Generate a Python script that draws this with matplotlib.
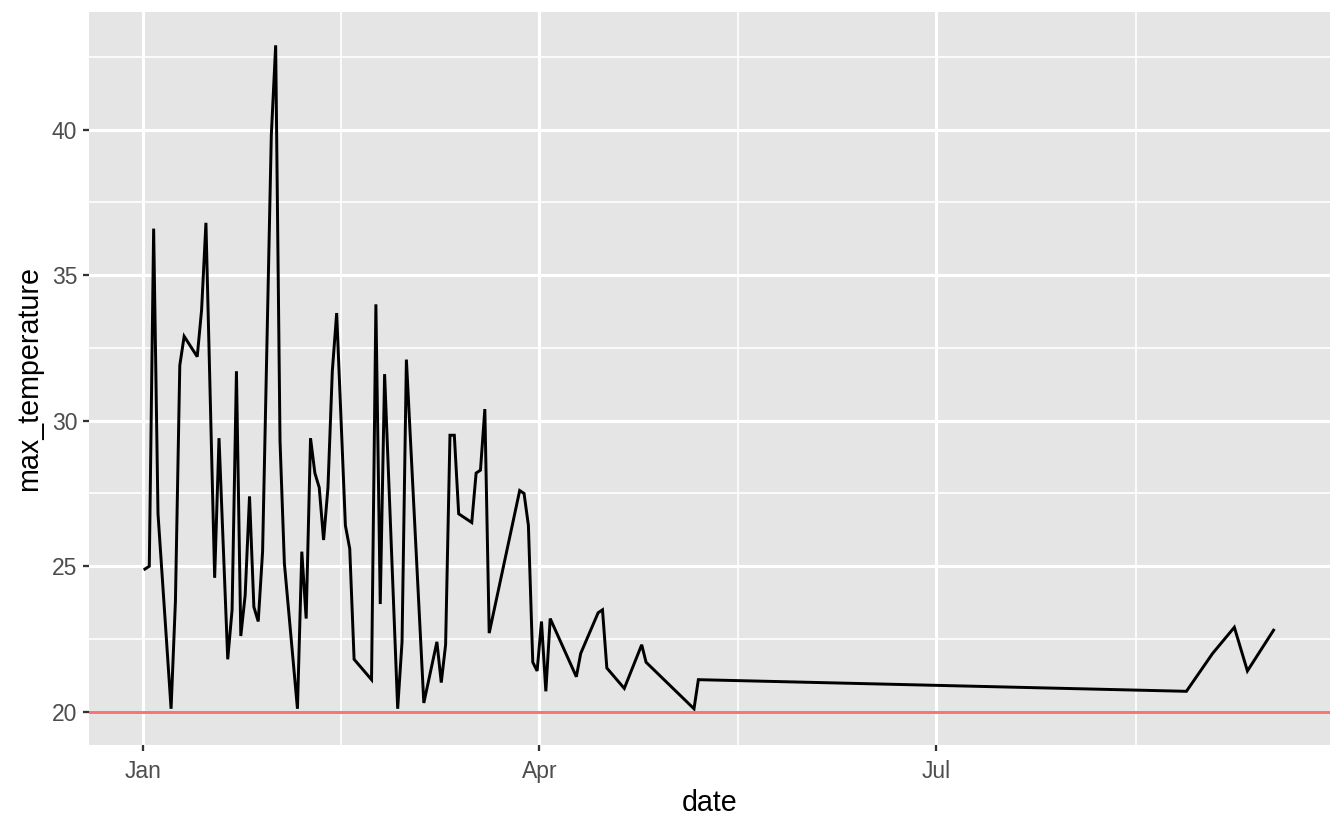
import numpy as np
import pandas as pd
import matplotlib
matplotlib.use("Agg")
import matplotlib.pyplot as plt
import matplotlib.dates as mdates

# ---- data ----
dates = [
    "2020-01-01", "2020-01-02", "2020-01-03", "2020-01-04", "2020-01-07", "2020-01-08",
    "2020-01-09", "2020-01-10", "2020-01-13", "2020-01-14", "2020-01-15", "2020-01-17",
    "2020-01-18", "2020-01-20", "2020-01-21", "2020-01-22", "2020-01-23", "2020-01-24",
    "2020-01-25", "2020-01-26", "2020-01-27", "2020-01-28", "2020-01-30", "2020-01-31",
    "2020-02-01", "2020-02-02", "2020-02-05", "2020-02-06", "2020-02-07", "2020-02-08",
    "2020-02-09", "2020-02-10", "2020-02-11", "2020-02-12", "2020-02-13", "2020-02-14",
    "2020-02-16", "2020-02-17", "2020-02-18", "2020-02-22", "2020-02-23", "2020-02-24",
    "2020-02-25", "2020-02-28", "2020-02-29", "2020-03-01", "2020-03-05", "2020-03-08",
    "2020-03-09", "2020-03-10", "2020-03-11", "2020-03-12", "2020-03-13", "2020-03-16",
    "2020-03-17", "2020-03-18", "2020-03-19", "2020-03-20", "2020-03-27", "2020-03-28",
    "2020-03-29", "2020-03-30", "2020-03-31", "2020-04-01", "2020-04-02", "2020-04-03",
    "2020-04-09", "2020-04-10", "2020-04-14", "2020-04-15", "2020-04-16", "2020-04-20",
    "2020-04-24", "2020-04-25", "2020-05-06", "2020-05-07", "2020-08-27", "2020-09-02",
    "2020-09-07", "2020-09-10", "2020-09-16",
]
max_temperature = [
    24.9, 25.0, 36.6, 26.8, 20.1, 23.8,
    31.9, 32.9, 32.2, 33.8, 36.8, 24.6,
    29.4, 21.8, 23.5, 31.7, 22.6, 24.0,
    27.4, 23.6, 23.1, 25.5, 39.8, 42.9,
    29.3, 25.1, 20.1, 25.5, 23.2, 29.4,
    28.2, 27.7, 25.9, 27.7, 31.7, 33.7,
    26.4, 25.6, 21.8, 21.1, 34.0, 23.7,
    31.6, 20.1, 22.4, 32.1, 20.3, 22.4,
    21.0, 22.3, 29.5, 29.5, 26.8, 26.5,
    28.2, 28.3, 30.4, 22.7, 27.6, 27.5,
    26.4, 21.7, 21.4, 23.1, 20.7, 23.2,
    21.2, 22.0, 23.4, 23.5, 21.5, 20.8,
    22.3, 21.7, 20.1, 21.1, 20.7, 22.0,
    22.9, 21.4, 22.8,
]
threshold = 20
x_breaks = ["2020-01-01", "2020-04-01", "2020-07-01", "2020-10-01"]
y_breaks = [20, 25, 30, 35, 40]

# observation time of day
obs_time = pd.Timedelta(hours=11)

t = pd.to_datetime(dates) + obs_time
y = np.array(max_temperature)
xnum = mdates.date2num(t)

# ---- figure ----
W, H, DPI = 1344, 830, 150
fig = plt.figure(figsize=(W / DPI, H / DPI), dpi=DPI)
ax = fig.add_axes([88.5 / W, 1 - 745 / H, (1330 - 88.5) / W, (745 - 12) / H])

panel_bg = "#E5E5E5"
ax.set_facecolor(panel_bg)
for s in ax.spines.values():
    s.set_visible(False)

# limits with ggplot 5% expansion
xmin, xmax = xnum.min(), xnum.max()
xr = xmax - xmin
ax.set_xlim(xmin - 0.05 * xr, xmax + 0.05 * xr)
ylo, yhi = min(y.min(), threshold), max(y.max(), threshold)
yr = yhi - ylo
ax.set_ylim(ylo - 0.05 * yr, yhi + 0.05 * yr)

# breaks
xb = mdates.date2num(pd.to_datetime(x_breaks))
ax.set_xticks(xb[:3])
ax.set_xticklabels([d.strftime("%b") for d in pd.to_datetime(x_breaks[:3])])
x_minor = (xb[:-1] + xb[1:]) / 2
ax.set_yticks(y_breaks)
ax.set_yticklabels([str(v) for v in y_breaks])
yb = np.array([15] + y_breaks + [45], dtype=float)
y_minor = (yb[:-1] + yb[1:]) / 2

# grid lines
for v in x_minor:
    ax.axvline(v, color="white", lw=0.8, zorder=0.5)
for v in y_minor:
    ax.axhline(v, color="white", lw=0.8, zorder=0.5)
for v in xb:
    ax.axvline(v, color="white", lw=1.5, zorder=0.6)
for v in y_breaks:
    ax.axhline(v, color="white", lw=1.5, zorder=0.6)

# data
ax.plot(t, y, color="black", lw=1.42, zorder=3, solid_joinstyle="miter")
ax.axhline(threshold, color="#F8766D", lw=1.42, zorder=4)

# ticks
font = "Liberation Sans"
ax.tick_params(axis="both", which="major", length=2.9, width=1.1, color="#333333",
               labelsize=11, labelcolor="#4D4D4D")
ax.tick_params(axis="x", pad=4.5)
ax.tick_params(axis="y", pad=2.5)
for lab in ax.get_xticklabels() + ax.get_yticklabels():
    lab.set_fontfamily(font)

ax.set_xlabel("date", fontsize=13.75, family=font, color="black", labelpad=2.5)
ax.set_ylabel("max_temperature", fontsize=13.75, family=font, color="black", labelpad=4)

fig.savefig("out.png", dpi=DPI)
